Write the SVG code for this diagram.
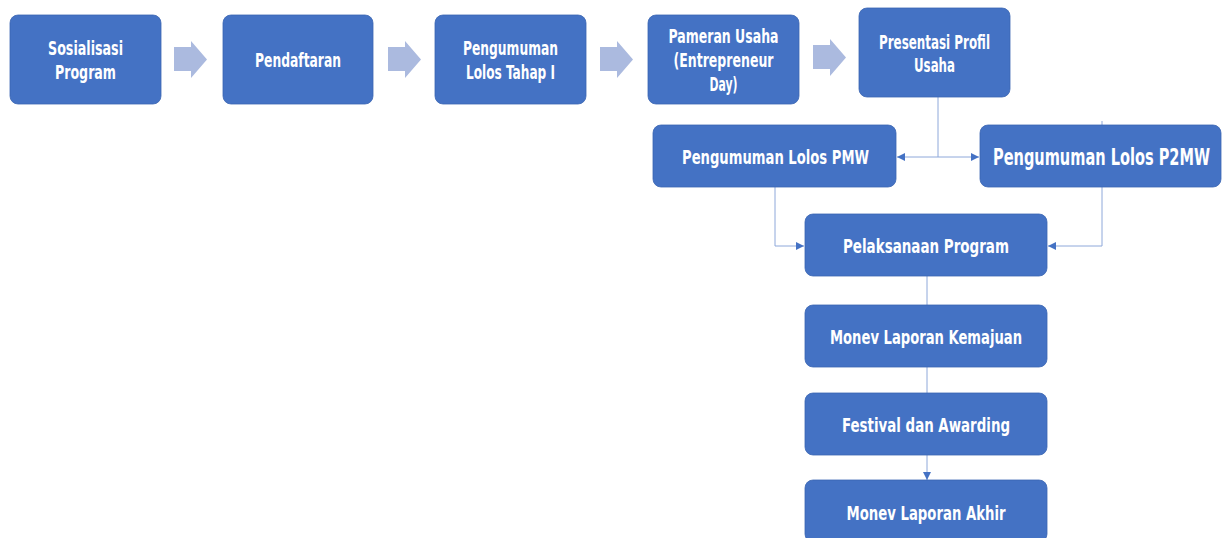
<svg xmlns="http://www.w3.org/2000/svg" width="1222" height="538" viewBox="0 0 1222 538">
<style>
.box{fill:#4472C4;stroke:#3B66B3;stroke-width:0.8}
.t{font-family:"DejaVu Sans Condensed","DejaVu Sans","Liberation Sans",sans-serif;font-weight:bold;fill:#FFFFFF;text-anchor:middle}
.s19{font-size:19px}
.s20{font-size:20px}
.s23{font-size:23px}
.blk{fill:#ABBADF}
.con{fill:none;stroke:#8EA8DA;stroke-width:1}
</style>
<defs>
<marker id="ah" viewBox="0 0 8 8" refX="8" refY="4" markerWidth="8" markerHeight="8" markerUnits="userSpaceOnUse" orient="auto">
<path d="M0,0 L8,4 L0,8 Z" fill="#4472C4"/>
</marker>
</defs>
<rect width="1222" height="538" fill="#FFFFFF"/>
<g id="block-arrows">
<path class="blk" d="M174,47 H191 V41 L207,59.5 L191,78 V71 H174 Z"/>
<path class="blk" d="M388,47 H405 V41 L421,59.5 L405,78 V71 H388 Z"/>
<path class="blk" d="M600,47 H617 V41 L633,59.5 L617,78 V71 H600 Z"/>
<path class="blk" d="M813,45 H830 V39 L846,57.5 L830,76 V69 H813 Z"/>
</g>
<g id="connectors">
<path class="con" d="M938,97 V157"/>
<path class="con" d="M938,157 H897" marker-end="url(#ah)"/>
<path class="con" d="M938,157 H979" marker-end="url(#ah)"/>
<path class="con" d="M1102,121 V125"/>
<path class="con" d="M775,187 V246 H804" marker-end="url(#ah)"/>
<path class="con" d="M1102,187 V246 H1048" marker-end="url(#ah)"/>
<path class="con" d="M927,276 V305"/>
<path class="con" d="M927,367 V393"/>
<path class="con" d="M927,455 V480" marker-end="url(#ah)"/>
</g>
<g id="n1"><rect class="box" x="10" y="15" width="151" height="89" rx="8"/>
<text class="t s19" x="85.5" y="55" textLength="75" lengthAdjust="spacingAndGlyphs">Sosialisasi</text>
<text class="t s19" x="85.5" y="79" textLength="61" lengthAdjust="spacingAndGlyphs">Program</text></g>
<g id="n2"><rect class="box" x="223" y="15" width="150" height="89" rx="8"/>
<text class="t s19" x="298" y="67" textLength="86" lengthAdjust="spacingAndGlyphs">Pendaftaran</text></g>
<g id="n3"><rect class="box" x="435" y="15" width="151" height="89" rx="8"/>
<text class="t s19" x="510.5" y="55" textLength="95" lengthAdjust="spacingAndGlyphs">Pengumuman</text>
<text class="t s19" x="510.5" y="79" textLength="89" lengthAdjust="spacingAndGlyphs">Lolos Tahap I</text></g>
<g id="n4"><rect class="box" x="648" y="15" width="151" height="89" rx="8"/>
<text class="t s19" x="723.5" y="43" textLength="110" lengthAdjust="spacingAndGlyphs">Pameran Usaha</text>
<text class="t s19" x="723.5" y="67" textLength="100" lengthAdjust="spacingAndGlyphs">(Entrepreneur</text>
<text class="t s19" x="723.5" y="91" textLength="28" lengthAdjust="spacingAndGlyphs">Day)</text></g>
<g id="n5"><rect class="box" x="859" y="8" width="151" height="89" rx="8"/>
<text class="t s19" x="934.5" y="49" textLength="111" lengthAdjust="spacingAndGlyphs">Presentasi Profil</text>
<text class="t s19" x="934.5" y="72" textLength="41" lengthAdjust="spacingAndGlyphs">Usaha</text></g>
<g id="n6"><rect class="box" x="653" y="125" width="243" height="62" rx="8"/>
<text class="t s20" x="775.5" y="164" textLength="187" lengthAdjust="spacingAndGlyphs">Pengumuman Lolos PMW</text></g>
<g id="n7"><rect class="box" x="980" y="125" width="241" height="62" rx="8"/>
<text class="t s23" transform="translate(1101.5,165) scale(0.7,1)" x="0" y="0" textLength="310" lengthAdjust="spacingAndGlyphs">Pengumuman Lolos P2MW</text></g>
<g id="n8"><rect class="box" x="805" y="214" width="242" height="62" rx="8"/>
<text class="t s20" x="926" y="253" textLength="166" lengthAdjust="spacingAndGlyphs">Pelaksanaan Program</text></g>
<g id="n9"><rect class="box" x="805" y="305" width="242" height="62" rx="8"/>
<text class="t s20" x="926" y="344" textLength="192" lengthAdjust="spacingAndGlyphs">Monev Laporan Kemajuan</text></g>
<g id="n10"><rect class="box" x="805" y="393" width="242" height="62" rx="8"/>
<text class="t s20" x="926" y="432" textLength="168" lengthAdjust="spacingAndGlyphs">Festival dan Awarding</text></g>
<g id="n11"><rect class="box" x="805" y="480" width="242" height="62" rx="8"/>
<text class="t s20" x="926" y="520" textLength="159" lengthAdjust="spacingAndGlyphs">Monev Laporan Akhir</text></g>
</svg>
